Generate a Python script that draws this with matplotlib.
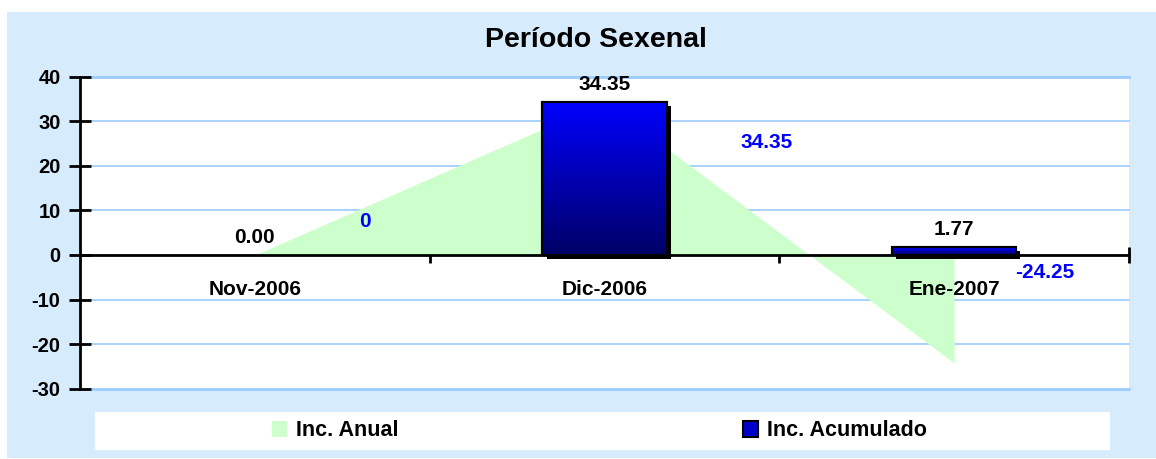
import numpy as np
import matplotlib
matplotlib.use('Agg')
import matplotlib.pyplot as plt
from matplotlib.patches import Rectangle, Patch
from matplotlib.colors import LinearSegmentedColormap
import matplotlib.patheffects as pe

plt.rcParams['font.family'] = ['Liberation Sans', 'DejaVu Sans']
plt.rcParams['font.weight'] = 'bold'

categories = ['Nov-2006', 'Dic-2006', 'Ene-2007']
inc_anual = [0, 34.35, -24.25]
inc_acumulado = [0.00, 34.35, 1.77]
yticks = [40, 30, 20, 10, 0, -10, -20, -30]

W, H = 1156, 459
FS = 15
fig = plt.figure(figsize=(W / 100, H / 100), dpi=100, facecolor='white')

# light blue chart panel
fig.patches.append(Rectangle((7 / W, 1 / H), 1 - 7 / W, (458 - 12) / H,
                             transform=fig.transFigure, facecolor='#D6ECFC',
                             edgecolor='none', zorder=-10))

ax = fig.add_axes([80 / W, 1 - 388.7 / H, (1129 - 80) / W, (388.7 - 76.7) / H])
ax.set_zorder(1)
ax.set_facecolor('white')
x = np.arange(len(categories))

# gridlines
for t in yticks:
    lw = 2 if t in (max(yticks), min(yticks)) else 1.2
    ax.axhline(t, color='#99CCFF', lw=lw, zorder=1, clip_on=False)

# area series
ax.fill_between(x, 0, inc_anual, color='#CCFFCC', lw=0, zorder=2)

# bars with shadow + gradient
bar_w = 0.355
bars = ax.bar(x, inc_acumulado, width=bar_w, color='#0000CC', edgecolor='black',
              lw=1.5, zorder=4)
cmap = LinearSegmentedColormap.from_list('bar', ['#000066', '#0000FF'])
grad = np.linspace(0, 1, 256).reshape(-1, 1)
for b in bars:
    h = b.get_height()
    if h <= 0:
        b.set_visible(False)
        continue
    b.set_path_effects([pe.SimplePatchShadow(offset=(3, -3), shadow_rgbFace='black', alpha=1),
                        pe.Normal()])
    im = ax.imshow(grad, cmap=cmap, origin='lower', aspect='auto', zorder=4.5,
                   extent=(b.get_x(), b.get_x() + b.get_width(), 0, h))
    im.set_clip_path(b)
    ax.add_patch(Rectangle((b.get_x(), 0), b.get_width(), h, fill=False,
                           edgecolor='black', lw=1.5, zorder=5))
ax.set_xlim(-0.5, len(categories) - 0.5)
ax.set_ylim(min(yticks), max(yticks))

# spines and ticks
for s in ['top', 'right']:
    ax.spines[s].set_visible(False)
ax.spines['left'].set_linewidth(2)
ax.spines['left'].set_zorder(6)
ax.spines['bottom'].set_position(('data', 0))
ax.spines['bottom'].set_linewidth(2)
ax.spines['bottom'].set_zorder(6)
ax.set_yticks(yticks)
ax.set_yticklabels([str(t) for t in yticks], fontsize=14.5, fontweight='bold')
ax.tick_params(axis='y', direction='inout', length=16, width=2, pad=6)
ax.set_xticks(list(x + 0.5))
ax.set_xticklabels([])
ax.tick_params(axis='x', direction='inout', length=12, width=2)

for xi, cat in zip(x, categories):
    ax.annotate(cat, (xi, 0), xytext=(0, -25), textcoords='offset points',
                ha='center', va='center', fontsize=FS, fontweight='bold', zorder=7)

# bar labels
for xi, v in zip(x, inc_acumulado):
    ax.annotate(f'{v:.2f}', (xi, v), xytext=(0, 6), textcoords='offset points',
                ha='center', va='bottom', fontsize=FS, fontweight='bold', zorder=7)

# area labels (manually placed as in the original)
anual_offsets = [(79, 24), (117, -29), (65, 65)]
for xi, v, off in zip(x, inc_anual, anual_offsets):
    ax.annotate(f'{v:g}', (xi, v), xytext=off, textcoords='offset points',
                ha='center', va='center', fontsize=FS, fontweight='bold',
                color='#0000FF', zorder=7)

fig.text(596 / W, 1 - 40 / H, 'Período Sexenal', ha='center', va='center',
         fontsize=20.5, fontweight='bold')

# legend box
fig.patches.append(Rectangle((95 / W, 1 - 450 / H), (1110 - 95) / W, 38 / H,
                             transform=fig.transFigure, facecolor='white',
                             edgecolor='none', zorder=-5))
leg_kw = dict(frameon=False, fontsize=15.5, handlelength=0.7, handleheight=0.7,
              handletextpad=0.4, borderpad=0, borderaxespad=0)
l1 = fig.legend(handles=[Patch(facecolor='#CCFFCC', edgecolor='none', label='Inc. Anual')],
                loc='center left', bbox_to_anchor=(272 / W, 1 - 431 / H), **leg_kw)
l2 = fig.legend(handles=[Patch(facecolor='#0000CC', edgecolor='black', lw=1.5,
                               label='Inc. Acumulado')],
                loc='center left', bbox_to_anchor=(743 / W, 1 - 431 / H), **leg_kw)
for t in l1.get_texts() + l2.get_texts():
    t.set_fontweight('bold')

fig.savefig('out.png', dpi=100, facecolor='white')
